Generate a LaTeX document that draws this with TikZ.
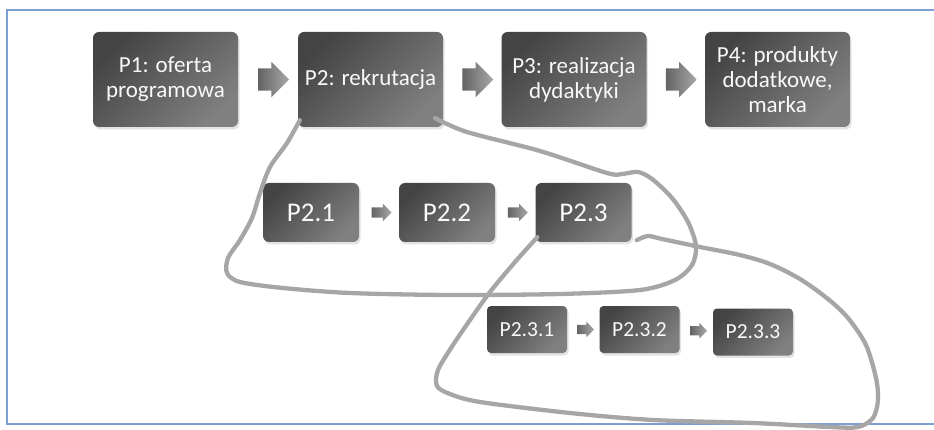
\documentclass[tikz,border=0pt]{standalone}
\usepackage{fontspec}
\setmainfont{Carlito}
\usetikzlibrary{calc, shapes.arrows, shadows}
\definecolor{framecol}{RGB}{124,160,212}
\definecolor{boxdark}{RGB}{68,68,68}
\definecolor{boxlight}{RGB}{128,128,128}
\definecolor{arrowdark}{RGB}{100,100,100}
\definecolor{arrowlight}{RGB}{168,168,168}
\definecolor{loopcol}{RGB}{166,166,166}
\tikzset{
    box/.style={rounded corners=6pt, top color=boxdark, bottom color=boxlight, shading angle=45,
        text=white!95!gray, align=center, inner sep=2pt,
        drop shadow={opacity=0.22, shadow xshift=1.5pt, shadow yshift=-2.5pt}},
    stage/.style={box, minimum width=145pt, minimum height=95pt, font=\fontsize{23pt}{25pt}\selectfont},
    substage/.style={box, minimum width=96pt, minimum height=59pt, font=\fontsize{27pt}{30pt}\selectfont},
    subsubstage/.style={box, rounded corners=4pt, minimum width=80pt, minimum height=47pt, font=\fontsize{21.5pt}{24pt}\selectfont},
    flowarrow/.style={single arrow, single arrow head indent=0pt, inner xsep=0pt, draw=none,
        left color=arrowdark, right color=arrowlight},
    bigarrow/.style={flowarrow, minimum height=31pt, inner ysep=11pt, single arrow head extend=6.5pt},
    midarrow/.style={flowarrow, minimum height=20pt, inner ysep=5pt, single arrow head extend=3.5pt},
    smallarrow/.style={flowarrow, minimum height=17pt, inner ysep=4.5pt, single arrow head extend=3pt},
    loopline/.style={draw=loopcol, line width=4.3pt, line cap=round, line join=round}
}
\begin{document}
\begin{tikzpicture}[x=1pt, y=-1pt]
    \useasboundingbox (0,0) rectangle (934,430);
    \draw[framecol, line width=2pt] (934,10) -- (7,10) -- (7,424) -- (934,424);

    \node[stage] (p1) at (165.5,79.5) {P1: oferta\\programowa};
    \node[stage] (p2) at (370.5,79.5) {P2: rekrutacja};
    \node[stage] (p3) at (574,79.5) {P3: realizacja\\dydaktyki};
    \node[stage] (p4) at (777.5,79.5) {P4: produkty\\dodatkowe,\\marka};
    \node[bigarrow] (a12) at ($(p1.east)!0.5!(p2.west)$) {};
    \node[bigarrow] (a23) at ($(p2.east)!0.5!(p3.west)$) {};
    \node[bigarrow] (a34) at ($(p3.east)!0.5!(p4.west)$) {};

    \node[substage] (p21) at (311,212.5) {P2.1};
    \node[substage] (p22) at (447,212.5) {P2.2};
    \node[substage] (p23) at (583.5,212.5) {P2.3};
    \node[midarrow] (a212) at ($(p21.east)!0.5!(p22.west)$) {};
    \node[midarrow] (a223) at ($(p22.east)!0.5!(p23.west)$) {};

    \node[subsubstage] (p231) at (527,329.5) {P2.3.1};
    \node[subsubstage] (p232) at (639.5,329.5) {P2.3.2};
    \node[subsubstage] (p233) at (753,332) {P2.3.3};
    \node[smallarrow] (a2312) at ($(p231.east)!0.5!(p232.west)$) {};
    \node[smallarrow] (a2323) at ($(p232.east)!0.5!(p233.west)$) {};

    \coordinate (l1s) at ($(p2.south west)+(2,-7)$);
    \coordinate (l1e) at ($(p2.south east)+(-8,-9)$);
    \coordinate (l2s) at ($(p23.south west)+(2,-5)$);
    \coordinate (l2e) at ($(p23.south east)+(5,-2)$);
    \draw[loopline] plot[smooth, tension=0.5] coordinates {(l1s) (287,143) (270,167) (260,193) (252,218)
        (240,240) (228,258) (227,273) (240,282) (283,288) (350,293) (450,295) (560,294) (640,290)
        (675,280) (692,265) (696,246) (688,222) (672,198) (652,179) (638,172) (622,174) (607,173)
        (540,151) (467,132) (l1e)};
    \draw[loopline] plot[smooth, tension=0.5] coordinates {(l2s) (515,262) (490,292) (470,320) (453,345)
        (438,370) (437,386) (450,394) (480,402) (570,413) (653,420) (753,423) (830,427) (858,427)
        (873,418) (878,400) (876,378) (866,345) (848,318) (828,299) (800,279) (770,264) (740,255)
        (700,247) (662,239) (648,236) (l2e)};
\end{tikzpicture}
\end{document}
